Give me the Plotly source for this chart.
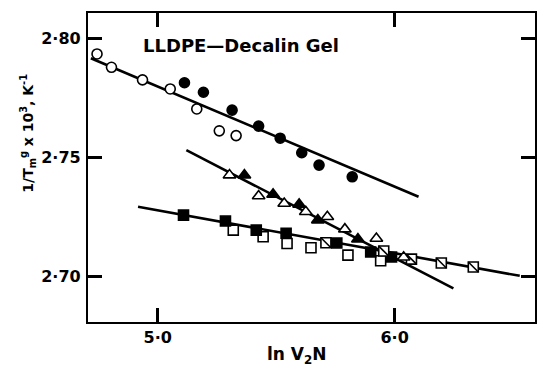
import plotly.graph_objects as go

# Data
open_circle_x = [4.744, 4.805, 4.936, 5.053, 5.165, 5.260, 5.331]
open_circle_y = [2.7933, 2.7877, 2.7824, 2.7786, 2.7702, 2.7610, 2.7590]
filled_circle_x = [5.113, 5.193, 5.314, 5.426, 5.517, 5.608, 5.681, 5.821]
filled_circle_y = [2.7812, 2.7772, 2.7697, 2.7630, 2.7579, 2.7518, 2.7466, 2.7417]

open_tri_x = [5.303, 5.426, 5.534, 5.625, 5.716, 5.790, 5.923, 6.038]
open_tri_y = [2.7424, 2.7336, 2.7305, 2.7270, 2.7249, 2.7197, 2.7158, 2.7079]
filled_tri_x = [5.366, 5.487, 5.597, 5.676, 5.845]
filled_tri_y = [2.7424, 2.7343, 2.7301, 2.7235, 2.7155]

filled_sq_x = [5.109, 5.286, 5.416, 5.542, 5.756, 5.899, 5.987]
filled_sq_y = [2.7256, 2.7231, 2.7193, 2.7180, 2.7139, 2.7101, 2.7080]
open_sq_x = [5.319, 5.445, 5.546, 5.647, 5.803, 5.941]
open_sq_y = [2.7193, 2.7165, 2.7137, 2.7119, 2.7088, 2.7064]
slash_sq_x = [5.710, 5.954, 6.071, 6.197, 6.332]
slash_sq_y = [2.7140, 2.7105, 2.7071, 2.7055, 2.7038]

fit1_x = [4.718, 6.101]
fit1_y = [2.7915, 2.7333]
fit2_x = [5.121, 6.248]
fit2_y = [2.7529, 2.6948]
fit3_x = [4.917, 6.528]
fit3_y = [2.7291, 2.7001]

x_tick_vals = [5.0, 6.0]
x_tick_text = ["5·0", "6·0"]
y_tick_vals = [2.70, 2.75, 2.80]
y_tick_text = ["2·70", "2·75", "2·80"]

FONT = "DejaVu Sans"
W, H = 537, 367
ML, MR, MT, MB = 88, 0, 13, 45
TICK = 14
fig = go.Figure()

for fx, fy in [(fit1_x, fit1_y), (fit2_x, fit2_y), (fit3_x, fit3_y)]:
    fig.add_trace(go.Scatter(x=fx, y=fy, mode="lines",
                             line=dict(color="black", width=2.6), showlegend=False))

def mk(x, y, symbol, size, filled):
    fig.add_trace(go.Scatter(
        x=x, y=y, mode="markers", showlegend=False,
        marker=dict(symbol=symbol, size=size,
                    color="black" if filled else "white",
                    line=dict(color="black", width=1.6))))

mk(open_circle_x, open_circle_y, "circle", 10, False)
mk(filled_circle_x, filled_circle_y, "circle", 10, True)
mk(open_sq_x, open_sq_y, "square", 10, False)
mk(filled_sq_x, filled_sq_y, "square", 10, True)
mk(slash_sq_x, slash_sq_y, "square", 10, False)
fig.add_trace(go.Scatter(x=slash_sq_x, y=slash_sq_y, mode="markers", showlegend=False,
                         marker=dict(symbol="line-nw", size=10,
                                     line=dict(color="black", width=1.6))))
mk(open_tri_x, open_tri_y, "triangle-up", 11, False)
mk(filled_tri_x, filled_tri_y, "triangle-up", 11, True)

axis_common = dict(showline=True, linecolor="black", linewidth=2.2, mirror="ticks",
                   ticks="inside", ticklen=TICK, tickwidth=2.5, tickcolor="black",
                   showgrid=False, zeroline=False, layer="above traces",
                   tickfont=dict(family=FONT, size=16, color="black", weight="bold"))

fig.update_xaxes(range=[4.7059, 6.5924], tickmode="array", tickvals=x_tick_vals,
                 ticktext=x_tick_text, **axis_common)
fig.update_yaxes(range=[2.6807, 2.8105], tickmode="array", tickvals=y_tick_vals,
                 ticktext=y_tick_text, ticklabelstandoff=2, **axis_common)

fig.add_annotation(text="LLDPE—Decalin Gel", xref="paper", yref="paper",
                   x=0.342, y=0.896, showarrow=False, xanchor="center", yanchor="middle",
                   font=dict(family=FONT, size=18, color="black", weight="bold"))
fig.add_annotation(text="ln V<sub>2</sub>N", xref="paper", yref="paper",
                   x=0.468, y=-0.11, showarrow=False, xanchor="center", yanchor="middle",
                   font=dict(family=FONT, size=17, color="black", weight="bold"))
fig.add_annotation(text="1/T<sub>m</sub><sup>g</sup> x 10<sup>3</sup>, K<sup>-1</sup>",
                   xref="paper", yref="paper", x=-0.136, y=0.61, textangle=-90,
                   showarrow=False, xanchor="center", yanchor="middle",
                   font=dict(family=FONT, size=14, color="black", weight="bold"))

fig.update_layout(width=W, height=H, margin=dict(l=ML, r=MR, t=MT, b=MB),
                  paper_bgcolor="white", plot_bgcolor="white")

fig.write_html("out.html", config={"displayModeBar": False},
               post_script="document.body.style.margin='0';document.body.style.overflow='hidden';")
